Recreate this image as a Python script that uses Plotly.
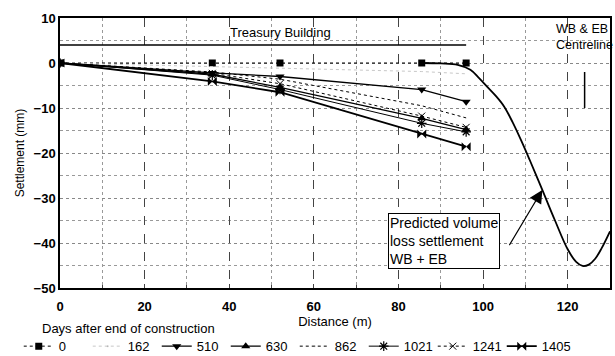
import plotly.graph_objects as go

# Monitoring chainages (m) and settlements (mm) for each survey date
distance = [0, 36, 52, 85.5, 96]
days = ["0", "162", "510", "630", "862", "1021", "1241", "1405"]
settle_0 = [0, 0, 0, 0, 0]
settle_162 = [0, -0.8, -1.2, -1.9, -2.4]
settle_510 = [0, -2.2, -3.0, -5.9, -8.6]
settle_630 = [0, -2.5, -5.4, -12.3, -14.8]
settle_862 = [0, -2.0, -3.6, -9.5, -12.2]
settle_1021 = [0, -2.7, -5.9, -13.4, -15.3]
settle_1241 = [0, -2.3, -4.6, -11.8, -14.3]
settle_1405 = [0, -4.1, -6.5, -15.8, -18.6]

# Predicted volume loss settlement trough (WB + EB)
pred_x = [85.5, 90, 94, 97, 99, 101, 103, 105, 107, 109, 111, 114, 117, 120, 122, 123.5, 125, 126.5, 128, 130]
pred_y = [0, -0.1, -0.4, -1.5, -3.3, -5.3, -7.3, -9.7, -13.2, -17.2, -21.5, -28.2, -35.0, -41.4, -44.2, -45.1, -44.8, -43.5, -41.2, -37.4]

series = [
    (settle_0, dict(dash="dot", width=1), dict(symbol="square", size=7)),
    (settle_162, dict(dash="dot", width=1, color="#c8c8c8"), dict(size=1, opacity=0)),
    (settle_510, dict(width=1.3), dict(symbol="triangle-down", size=8)),
    (settle_630, dict(width=1.3), dict(symbol="triangle-up", size=8)),
    (settle_862, dict(dash="dot", width=1), dict(size=1, opacity=0)),
    (settle_1021, dict(width=1), dict(symbol="asterisk-open", size=8, line=dict(width=1.2, color="black"))),
    (settle_1241, dict(dash="dot", width=1), dict(symbol="x-thin-open", size=7, line=dict(width=1, color="black"))),
    (settle_1405, dict(width=1.8), dict(symbol="bowtie", size=9)),
]

fig = go.Figure()
for name, (vals, line, marker) in zip(days, series):
    line.setdefault("color", "black")
    marker.setdefault("color", "black")
    fig.add_trace(go.Scatter(x=distance, y=vals, name=name, mode="lines+markers",
                             line=line, marker=marker))

fig.add_trace(go.Scatter(x=pred_x, y=pred_y, mode="lines", showlegend=False,
                         line=dict(color="black", width=1.8, shape="spline")))

# Treasury Building footprint
fig.add_shape(type="line", x0=0, x1=96, y0=4, y1=4, line=dict(color="black", width=1.5))
fig.add_annotation(x=52, y=6.8, text="Treasury Building", showarrow=False,
                   font=dict(size=13, color="black"))

# Tunnel centreline marker
fig.add_shape(type="line", x0=124, x1=124, y0=-2, y1=-10, line=dict(color="black", width=1.5))
fig.add_annotation(x=116.8, y=9.5, xanchor="left", yanchor="top", align="left",
                   text="WB & EB<br>Centreline", showarrow=False,
                   font=dict(size=12.5, color="black"))

# Predicted settlement label with arrow
fig.add_annotation(x=114, y=-28.2, ax=106, ay=-40.8, axref="x", ayref="y",
                   showarrow=True, arrowhead=2, arrowsize=2.4, arrowwidth=1.1,
                   arrowcolor="black", text="")
fig.add_annotation(x=77.6, y=-33.3, xanchor="left", yanchor="top", align="left",
                   text="Predicted volume<br>loss settlement<br>WB + EB", showarrow=False,
                   bgcolor="white", bordercolor="black", borderwidth=1, borderpad=1,
                   font=dict(size=14, color="black"))

# Legend heading
fig.add_annotation(xref="paper", yref="paper", x=-0.036, y=-0.115, xanchor="left",
                   yanchor="top", text="Days after end of construction", showarrow=False,
                   font=dict(size=13, color="black"))

fig.update_layout(
    width=615, height=356,
    margin=dict(l=60, r=5, t=18, b=68, autoexpand=False),
    paper_bgcolor="white", plot_bgcolor="white",
    font=dict(family="Liberation Sans, Arial", color="black"),
    legend=dict(orientation="h", x=-0.075, y=-0.16, xanchor="left", yanchor="top",
                font=dict(size=13), itemwidth=30, entrywidth=24, tracegroupgap=0,
                bgcolor="rgba(0,0,0,0)"),
)
fig.update_xaxes(range=[0, 130], dtick=20, tick0=0, showline=True, mirror=True,
                 linecolor="black", linewidth=1.5, ticks="inside", ticklen=4,
                 ticklabelstandoff=6,
                 tickfont=dict(size=13, weight="bold"),
                 showgrid=True, gridcolor="#444", griddash="dash", gridwidth=1,
                 minor=dict(dtick=10, showgrid=True, gridcolor="#999", griddash="dot",
                            ticks="inside", ticklen=3),
                 title=dict(text="Distance (m)", font=dict(size=13), standoff=2),
                 zeroline=False)
fig.update_yaxes(range=[-50, 10], dtick=10, showline=True, mirror=True,
                 linecolor="black", linewidth=1.5, ticks="",
                 tickfont=dict(size=13, weight="bold"),
                 showgrid=True, gridcolor="#888", griddash="dot", gridwidth=1,
                 minor=dict(dtick=5, showgrid=True, gridcolor="#999", griddash="dot"),
                 title=dict(text="Settlement (mm)", font=dict(size=12), standoff=6),
                 zeroline=False)

fig.write_html("out.html")
